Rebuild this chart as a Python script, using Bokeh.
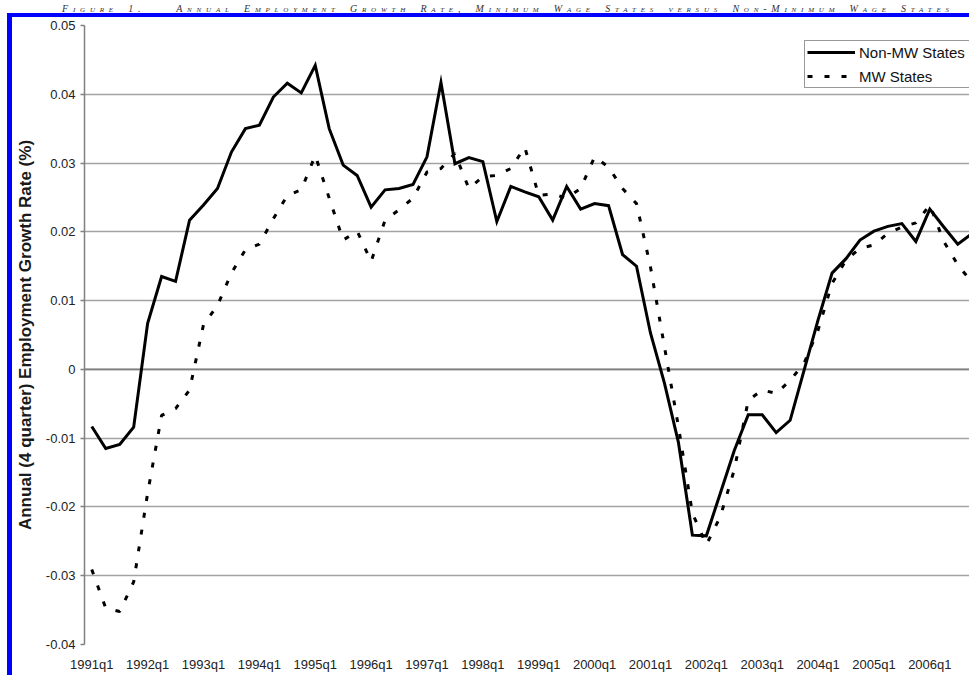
from bokeh.plotting import figure
from bokeh.models import (Range1d, FixedTicker, CustomJSTickFormatter, Span, Legend,
                          LegendItem, Div, ColumnDataSource)
from bokeh.layouts import column, row
from bokeh.embed import file_html
from bokeh.resources import INLINE

# ---------------- data ----------------
quarters = [f"{y}q{q}" for y in range(1991, 2007) for q in range(1, 5)]

non_mw = [
    -0.0083, -0.0115, -0.0109, -0.0084, 0.0067, 0.0135, 0.0128, 0.0217,
    0.0239, 0.0263, 0.0316, 0.0350, 0.0355, 0.0396, 0.0416, 0.0402,
    0.0442, 0.0350, 0.0297, 0.0282, 0.0236, 0.0261, 0.0263, 0.0269,
    0.0309, 0.0417, 0.0299, 0.0308, 0.0302, 0.0215, 0.0266, 0.0258,
    0.0251, 0.0217, 0.0266, 0.0233, 0.0241, 0.0238, 0.0167, 0.0150,
    0.0053, -0.0020, -0.0106, -0.0241, -0.0242, -0.0180, -0.0118, -0.0066,
    -0.0066, -0.0092, -0.0074, -0.0001, 0.0072, 0.0140, 0.0161, 0.0188,
    0.0201, 0.0208, 0.0212, 0.0186, 0.0233, 0.0207, 0.0182, 0.0197,
]

mw = [
    -0.0291, -0.0347, -0.0352, -0.0309, -0.0180, -0.0067, -0.0057, -0.0030,
    0.0065, 0.0093, 0.0140, 0.0174, 0.0182, 0.0219, 0.0253, 0.0261,
    0.0311, 0.0249, 0.0188, 0.0201, 0.0157, 0.0217, 0.0232, 0.0249,
    0.0287, 0.0292, 0.0314, 0.0263, 0.0280, 0.0282, 0.0292, 0.0323,
    0.0253, 0.0255, 0.0249, 0.0263, 0.0309, 0.0294, 0.0263, 0.0241,
    0.0149, 0.0033, -0.0083, -0.0209, -0.0255, -0.0214, -0.0146, -0.0045,
    -0.0030, -0.0035, -0.0016, 0.0009, 0.0057, 0.0125, 0.0159, 0.0176,
    0.0181, 0.0198, 0.0207, 0.0213, 0.0239, 0.0186, 0.0152, 0.0127,
]

series_names = ["Non-MW States", "MW States"]
y_ticks = [-0.04, -0.03, -0.02, -0.01, 0.0, 0.01, 0.02, 0.03, 0.04, 0.05]
x_tick_idx = list(range(0, len(quarters), 4))
y_title = "Annual (4 quarter) Employment Growth Rate (%)"
chart_title = ("Figure 1.&nbsp;&nbsp;&nbsp;Annual Employment Growth Rate, "
               "Minimum Wage States versus Non-Minimum Wage States")

FONT = "Liberation Sans"

PW, PH = 957, 658          # figure canvas size
ML, MT, MB = 70, 8, 31      # borders around the plot frame

src = ColumnDataSource(dict(x=list(range(len(quarters))), non_mw=non_mw, mw=mw))

p = figure(width=PW, height=PH,
           x_range=Range1d(-0.52, 62.84), y_range=Range1d(-0.04, 0.05),
           output_backend="svg", toolbar_location=None,
           min_border_left=ML, min_border_right=0,
           min_border_top=MT, min_border_bottom=MB)
p.outline_line_color = None
p.background_fill_color = "white"
p.border_fill_color = "white"

# grid
p.xgrid.visible = False
p.ygrid.grid_line_color = "#a3a3a3"
p.ygrid.grid_line_width = 1.4
p.ygrid.ticker = FixedTicker(ticks=y_ticks)

zero = Span(location=0, dimension="width", line_color="#7f7f7f",
            line_width=1.8, level="underlay")
p.add_layout(zero)

# y axis
p.yaxis.ticker = FixedTicker(ticks=y_ticks)
p.yaxis.formatter = CustomJSTickFormatter(
    code="return Math.abs(tick) < 1e-9 ? '0' : tick.toFixed(2);")
p.yaxis.axis_line_color = "#808080"
p.yaxis.axis_line_width = 1.5
p.yaxis.major_tick_line_color = "#808080"
p.yaxis.major_tick_line_width = 1.5
p.yaxis.major_tick_out = 4
p.yaxis.major_tick_in = 0
p.yaxis.minor_tick_line_color = None
p.yaxis.major_label_standoff = 5
p.yaxis.major_label_text_font = FONT
p.yaxis.major_label_text_font_size = "13px"
p.yaxis.major_label_text_color = "#222222"
p.yaxis.axis_label = y_title
p.yaxis.axis_label_text_font = FONT
p.yaxis.axis_label_text_font_style = "bold"
p.yaxis.axis_label_text_font_size = "17px"
p.yaxis.axis_label_text_color = "#1a1a1a"
p.yaxis.axis_label_standoff = 8

# x axis
p.xaxis.ticker = FixedTicker(ticks=x_tick_idx)
p.xaxis.major_label_overrides = {i: quarters[i] for i in x_tick_idx}
p.xaxis.axis_line_color = None
p.xaxis.major_tick_line_color = None
p.xaxis.minor_tick_line_color = None
p.xaxis.major_tick_out = 0
p.xaxis.major_tick_in = 0
p.xaxis.major_label_standoff = 12
p.xaxis.major_label_text_font = FONT
p.xaxis.major_label_text_font_size = "13px"
p.xaxis.major_label_text_color = "#222222"

# series
r1 = p.line("x", "non_mw", source=src, line_color="black", line_width=3,
            line_join="miter")
r2 = p.line("x", "mw", source=src, line_color="black", line_width=3,
            line_dash="5 12")

legend = Legend(items=[LegendItem(label=series_names[0], renderers=[r1]),
                       LegendItem(label=series_names[1], renderers=[r2])],
                location=(720, 556))
legend.margin = 0
legend.padding = 2
legend.spacing = 6
legend.glyph_width = 48
legend.glyph_height = 18
legend.label_height = 18
legend.label_width = 120
legend.label_standoff = 4
legend.label_text_font = FONT
legend.label_text_font_size = "15px"
legend.label_text_color = "#111111"
legend.border_line_color = "#333333"
legend.border_line_width = 1
legend.background_fill_color = "white"
legend.background_fill_alpha = 1
p.add_layout(legend)

# ---------------- page furniture: title and blue panel border ----------------
title_div = Div(
    text=('<div style="white-space:nowrap;text-align:left;padding-left:62px;'
          'font-family:\'Liberation Serif\';font-style:italic;font-variant:small-caps;'
          'font-size:10px;line-height:12px;letter-spacing:4.8px;word-spacing:3px;'
          'color:#333;">' + chart_title + '</div>'),
    width=969, height=13, margin=0)
top_bar = Div(text="", width=962, height=4, margin=(0, 0, 0, 7),
              styles={"background-color": "#0000ff"})
left_bar = Div(text="", width=5, height=PH, margin=(0, 0, 0, 7),
               styles={"background-color": "#0000ff"})

layout = column(title_div, top_bar, row(left_bar, p))

open("out.html", "w").write(file_html(layout, INLINE))
